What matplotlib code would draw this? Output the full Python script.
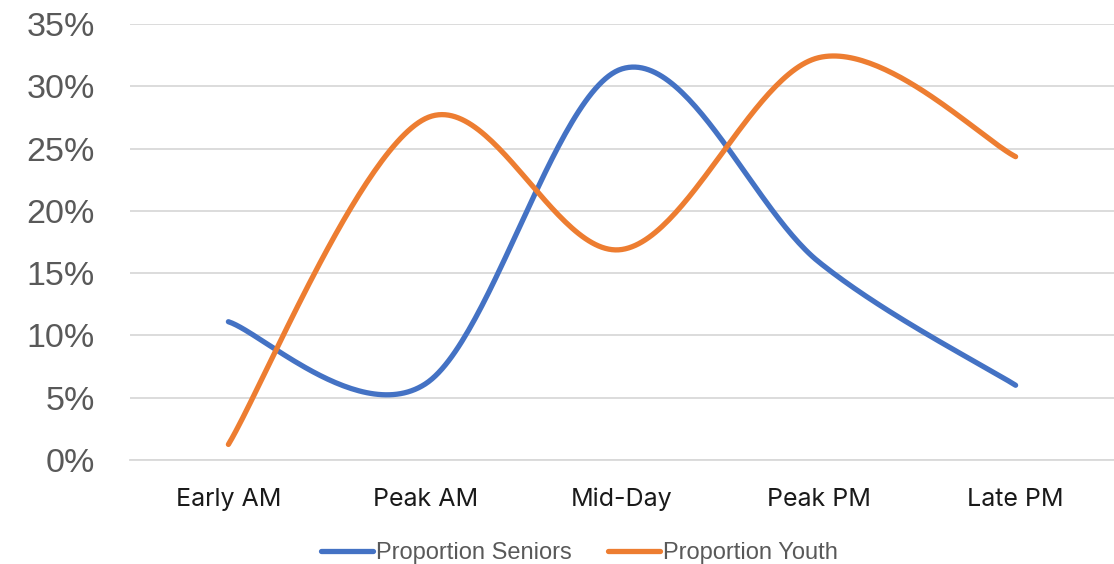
import numpy as np
import matplotlib.pyplot as plt
from matplotlib.ticker import FuncFormatter

periods = ['Early AM', 'Peak AM', 'Mid-Day', 'Peak PM', 'Late PM']
seniors = [11.1, 6.1, 31.4, 15.9, 6.0]
youth = [1.25, 27.4, 16.9, 32.3, 24.35]


def smooth(xs, ys, n=60):
    # excel-style smoothed line: catmull-rom as cubic bezier
    xs = np.asarray(xs, float)
    ys = np.asarray(ys, float)
    px = np.concatenate([[xs[0]], xs, [xs[-1]]])
    py = np.concatenate([[ys[0]], ys, [ys[-1]]])
    t = np.linspace(0, 1, n)[:, None]
    out = []
    for i in range(1, len(px) - 2):
        p0 = np.array([px[i], py[i]])
        p3 = np.array([px[i + 1], py[i + 1]])
        p1 = p0 + (np.array([px[i + 1], py[i + 1]]) - np.array([px[i - 1], py[i - 1]])) / 6
        p2 = p3 - (np.array([px[i + 2], py[i + 2]]) - np.array([px[i], py[i]])) / 6
        seg = (1 - t) ** 3 * p0 + 3 * (1 - t) ** 2 * t * p1 + 3 * (1 - t) * t ** 2 * p2 + t ** 3 * p3
        out.append(seg if i == 1 else seg[1:])
    out = np.vstack(out)
    return out[:, 0], out[:, 1]


ind = np.arange(len(periods))

fig = plt.figure(figsize=(11.14, 5.64), dpi=100)
ax = fig.add_axes([130 / 1114, 104 / 564, 984 / 1114, 436 / 564])

sx, sy = smooth(ind, seniors)
yx, yy = smooth(ind, youth)
ax.plot(sx, sy, color='#4472C4', lw=3.8, solid_capstyle='round', label='Proportion Seniors', zorder=3)
ax.plot(yx, yy, color='#ED7D31', lw=3.8, solid_capstyle='round', label='Proportion Youth', zorder=3)

ax.set_xlim(-0.5, 4.5)
ax.set_ylim(0, 35)
ax.set_yticks(np.arange(0, 36, 5))
ax.yaxis.set_major_formatter(FuncFormatter(lambda v, p: '%d%%' % v))
ax.grid(axis='y', color='#d9d9d9', lw=1.3, zorder=0)
ax.set_xticks(ind)
ax.set_xticklabels(periods, fontsize=18, family='Inter', color='#1a1a1a')
for lab in ax.get_yticklabels():
    lab.set_family('Liberation Sans')
    lab.set_fontsize(24.5)
    lab.set_color('#595959')
ax.tick_params(axis='both', length=0)
ax.tick_params(axis='y', pad=25.5)
ax.tick_params(axis='x', pad=20)
for s in ['top', 'right', 'left']:
    ax.spines[s].set_visible(False)
ax.spines['bottom'].set_color('#d9d9d9')
ax.spines['bottom'].set_linewidth(1.3)

leg = fig.legend(loc='center', bbox_to_anchor=(0.52, 0.019), ncol=2, frameon=False,
                 prop={'family': 'Liberation Sans', 'size': 17}, handlelength=2.2,
                 handletextpad=0.12, columnspacing=1.55)
for t in leg.get_texts():
    t.set_color('#595959')

fig.savefig('out.png', dpi=100)
